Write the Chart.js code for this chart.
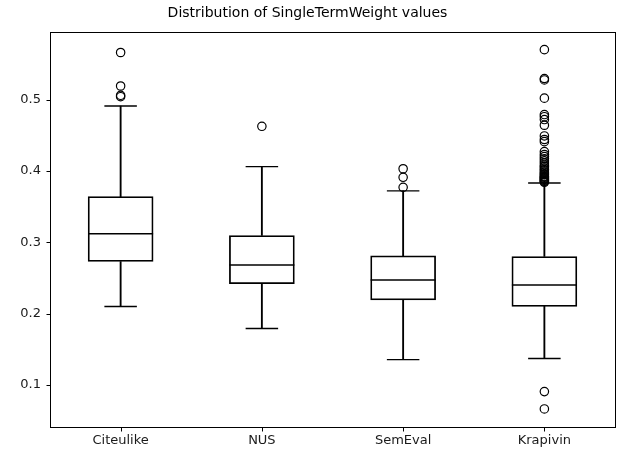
<!DOCTYPE html>
<html>
<head>
<meta charset="utf-8">
<script src="https://cdn.jsdelivr.net/npm/chart.js@4/dist/chart.umd.min.js"></script>
<style>
  html, body { margin: 0; padding: 0; background: #fff; }
  #wrap { width: 621px; height: 450px; }
</style>
</head>
<body>
<div id="wrap"><canvas id="boxChart"></canvas></div>
<script>
// box plot data
const categories = ['Citeulike', 'NUS', 'SemEval', 'Krapivin'];
const whiskerLow = [0.210, 0.179, 0.1355, 0.137];
const q1 = [0.273, 0.242, 0.219, 0.210];
const median = [0.312, 0.268, 0.247, 0.240];
const q3 = [0.364, 0.3095, 0.281, 0.280];
const whiskerHigh = [0.491, 0.406, 0.372, 0.383];

const citeulikeOutliers = [0.566, 0.519, 0.506, 0.504];
const nusOutliers = [0.4625];
const semevalOutliers = [0.403, 0.391, 0.377];
const krapivinOutliers = [0.570, 0.5295, 0.5275, 0.502, 0.479, 0.476, 0.472, 0.464,
    0.449, 0.444, 0.441, 0.427, 0.423, 0.420, 0.417, 0.414, 0.411, 0.408, 0.406,
    0.404, 0.402, 0.400, 0.398, 0.396, 0.395, 0.393, 0.392, 0.391, 0.390, 0.389,
    0.388, 0.387, 0.386, 0.385, 0.384, 0.0906, 0.0663];

const yTicks = [0.1, 0.2, 0.3, 0.4, 0.5];

const lineColor = '#000000';
const textColor = '#1a1a1a';
const fontFamily = "'DejaVu Sans', sans-serif";
const boxWidth = 65;
const tickLen = 4;

const outlierLists = [citeulikeOutliers, nusOutliers, semevalOutliers, krapivinOutliers];
let outlierPoints = [];
outlierLists.forEach((list, i) => {
    list.forEach((v) => {
        outlierPoints.push({ x: categories[i], y: v });
    });
});

// frame around the plot area like matplotlib's spines, plus outward tick marks
const framePlugin = {
    id: 'frame',
    afterDraw(chart) {
        const a = chart.chartArea;
        const ctx = chart.ctx;
        const xScale = chart.scales.x;
        const yScale = chart.scales.y;
        ctx.save();
        ctx.strokeStyle = lineColor;
        ctx.lineWidth = 1;
        const left = Math.round(a.left) + 0.5;
        const top = Math.round(a.top) + 0.5;
        const right = Math.round(a.right) + 0.5;
        const bottom = Math.round(a.bottom) + 0.5;
        ctx.strokeRect(left, top, right - left, bottom - top);
        ctx.beginPath();
        categories.forEach((c, i) => {
            const px = Math.round(xScale.getPixelForTick(i)) + 0.5;
            ctx.moveTo(px, bottom);
            ctx.lineTo(px, bottom + tickLen);
        });
        yTicks.forEach((v) => {
            const py = Math.round(yScale.getPixelForValue(v)) + 0.5;
            ctx.moveTo(left, py);
            ctx.lineTo(left - tickLen, py);
        });
        ctx.stroke();
        ctx.restore();
    }
};

const pointSet = (values, radius) => ({
    type: 'line',
    data: values.map((v, i) => ({ x: categories[i], y: v })),
    showLine: false,
    pointStyle: 'line',
    pointRadius: radius,
    pointBorderWidth: 1.4,
    pointBorderColor: lineColor,
    pointHoverRadius: radius
});

new Chart(document.getElementById('boxChart'), {
    type: 'bar',
    data: {
        labels: categories,
        datasets: [
            pointSet(median, boxWidth / 2),
            pointSet(whiskerLow, boxWidth / 4),
            pointSet(whiskerHigh, boxWidth / 4),
            {
                type: 'line',
                data: outlierPoints,
                showLine: false,
                pointStyle: 'circle',
                pointRadius: 4.2,
                pointBorderWidth: 1.2,
                pointBorderColor: lineColor,
                pointBackgroundColor: 'rgba(0,0,0,0)'
            },
            {
                // boxes
                data: q1.map((v, i) => [v, q3[i]]),
                backgroundColor: 'rgba(0,0,0,0)',
                borderColor: lineColor,
                borderWidth: 1.1,
                borderSkipped: false,
                barThickness: boxWidth,
                grouped: false
            },
            {
                // lower whisker
                data: whiskerLow.map((v, i) => [v, q1[i]]),
                backgroundColor: lineColor,
                borderWidth: 0,
                barThickness: 1.2,
                grouped: false
            },
            {
                // upper whisker
                data: q3.map((v, i) => [v, whiskerHigh[i]]),
                backgroundColor: lineColor,
                borderWidth: 0,
                barThickness: 1.2,
                grouped: false
            }
        ]
    },
    options: {
        responsive: true,
        maintainAspectRatio: false,
        animation: false,
        layout: { autoPadding: false, padding: { top: 3, right: 6, left: 0, bottom: 0 } },
        plugins: {
            legend: { display: false },
            tooltip: { enabled: false },
            title: {
                display: true,
                text: 'Distribution of SingleTermWeight values',
                color: lineColor,
                font: { family: fontFamily, size: 14, weight: 'normal', lineHeight: 1.2 },
                padding: { top: 2, bottom: 10 }
            }
        },
        scales: {
            x: {
                grid: { display: false, tickLength: tickLen },
                border: { display: false },
                ticks: { color: textColor, font: { family: fontFamily, size: 13 }, padding: 2 },
                afterFit(scale) {
                    scale.height = 23;
                    scale.paddingLeft = 0;
                    scale.paddingRight = 0;
                }
            },
            y: {
                min: 0.041,
                max: 0.595,
                grid: { display: false, tickLength: tickLen },
                border: { display: false },
                ticks: {
                    color: textColor,
                    font: { family: fontFamily, size: 13 },
                    padding: 5,
                    callback: (v) => v.toFixed(1)
                },
                afterBuildTicks(scale) {
                    scale.ticks = yTicks.map((v) => ({ value: v }));
                },
                afterFit(scale) {
                    scale.width = 50;
                    scale.paddingTop = 0;
                    scale.paddingBottom = 0;
                }
            }
        }
    },
    plugins: [framePlugin]
});
</script>
</body>
</html>
